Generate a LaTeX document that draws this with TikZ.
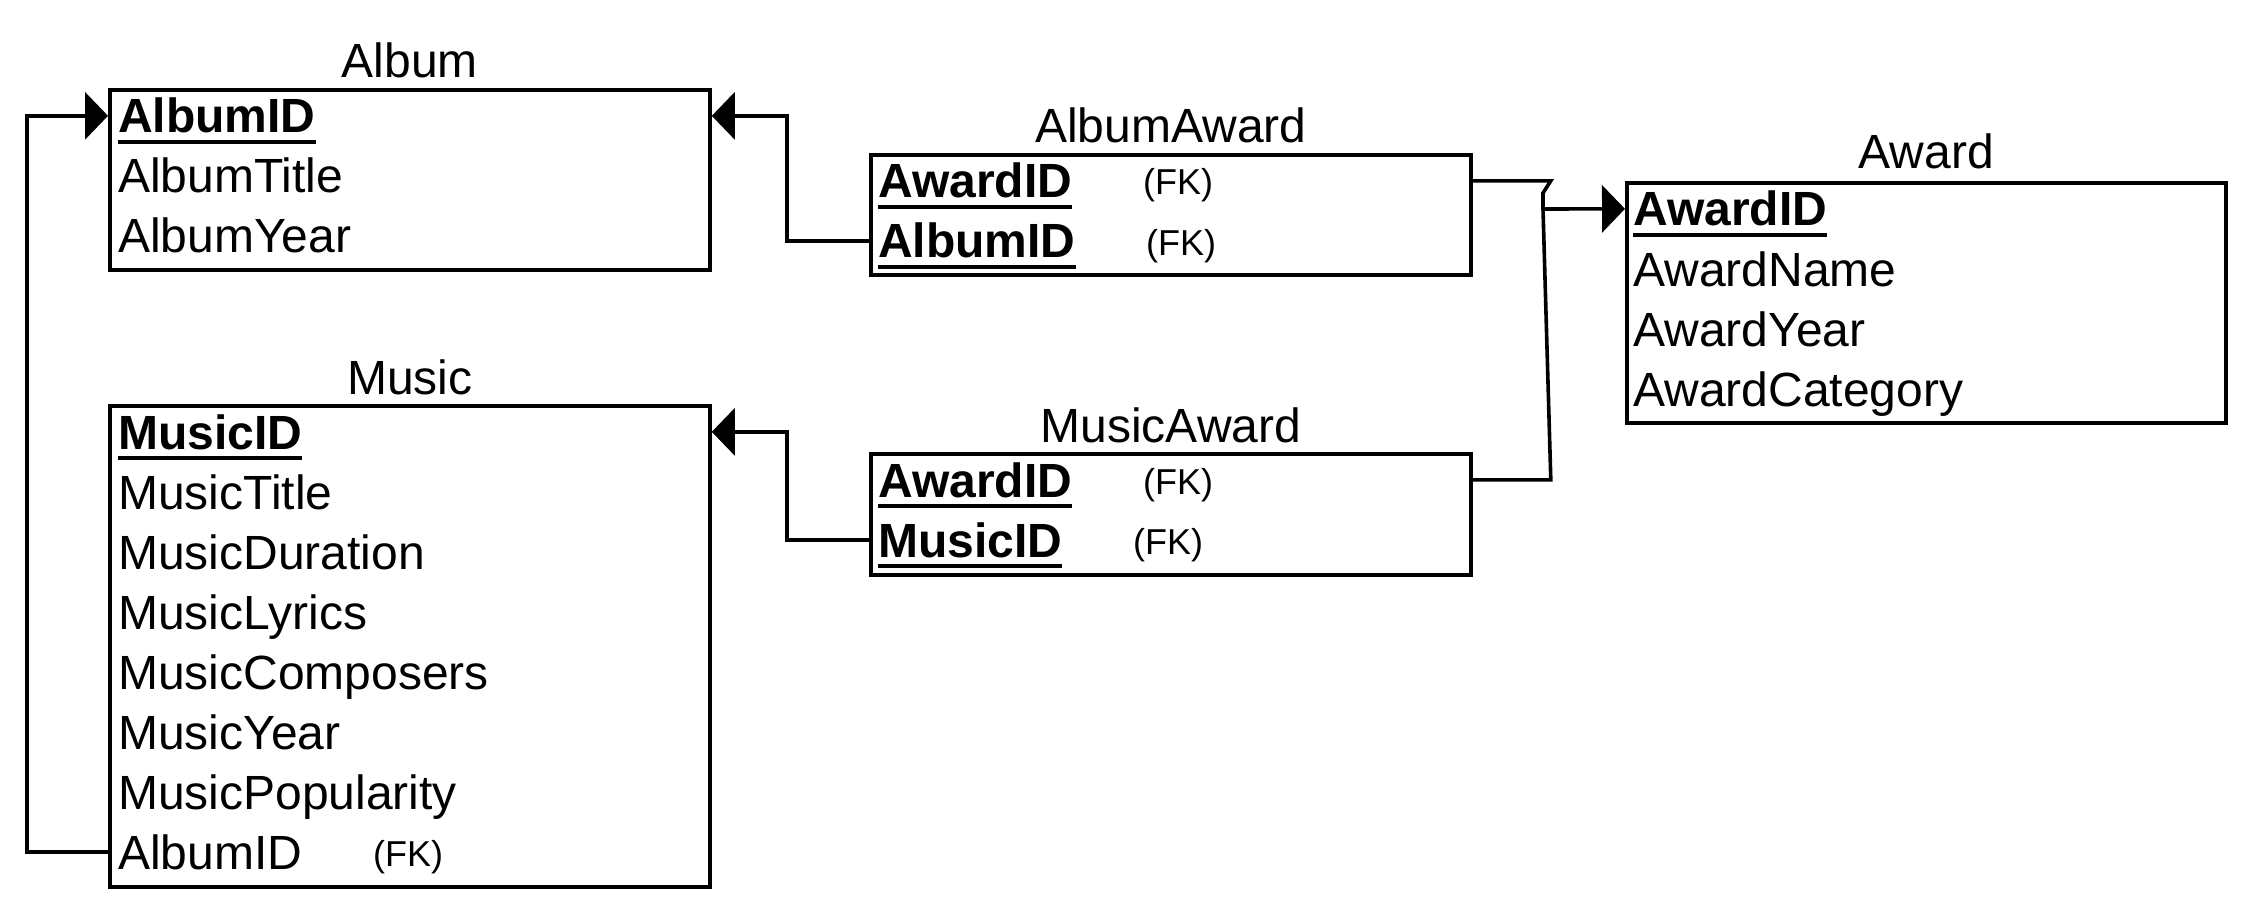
\documentclass[tikz,border=0pt]{standalone}
\usepackage{fontspec}
\setmainfont{Liberation Sans}
\usetikzlibrary{arrows.meta}
\begin{document}
\begin{tikzpicture}[x=1pt,y=-1pt,
  tbl/.style={draw, line width=3.8pt, inner sep=0pt, anchor=north west, minimum width=600pt},
  fld/.style={anchor=base west, inner sep=0pt, font=\fontsize{48}{56}\selectfont},
  pk/.style={anchor=base west, inner sep=0pt, font=\fontsize{48}{56}\selectfont\bfseries},
  fk/.style={anchor=base west, inner sep=0pt, font=\fontsize{36}{42}\selectfont},
  ttl/.style={anchor=base, inner sep=0pt, font=\fontsize{48}{56}\selectfont},
  conn/.style={line width=3.6pt},
  tip/.style={-{Triangle[length=23pt,width=47pt]}},
  ul/.style={line width=4pt}
]
\fill[white] (0,0) rectangle (2252,912);
\useasboundingbox (0,0) rectangle (2252,912);

% Album
\node[tbl, minimum height=180pt] (album) at (108,88) {};
\node[ttl] (albumT) at ([yshift=10pt]album.north) {Album};
\node[pk] (aPK) at (118,133) {AlbumID};
\node[fld] (aTitle) at (118,193) {AlbumTitle};
\node[fld] (aYear) at (118,253) {AlbumYear};
\draw[ul] ([yshift=-9pt]aPK.base west) -- ([yshift=-9pt]aPK.base east);

% Music
\node[tbl, minimum height=481pt] (music) at (108,404) {};
\node[ttl] (musicT) at ([yshift=10pt]music.north) {Music};
\node[pk] (mPK) at (118,449) {MusicID};
\node[fld] (m2) at (118,509) {MusicTitle};
\node[fld] (m3) at (118,569) {MusicDuration};
\node[fld] (m4) at (118,629) {MusicLyrics};
\node[fld] (m5) at (118,689) {MusicComposers};
\node[fld] (m6) at (118,749) {MusicYear};
\node[fld] (m7) at (118,809) {MusicPopularity};
\node[fld] (mAlb) at (118,869) {AlbumID};
\node[fk] (mAlbFK) at (373,866) {(FK)};
\draw[ul] ([yshift=-9pt]mPK.base west) -- ([yshift=-9pt]mPK.base east);

% AlbumAward
\node[tbl, minimum height=120pt, minimum width=600pt] (aa) at (869,153) {};
\node[ttl] (aaT) at ([yshift=10pt]aa.north) {AlbumAward};
\node[pk] (aaAw) at (878,198) {AwardID};
\node[fk] (aaAwFK) at (1143,195) {(FK)};
\node[pk] (aaAl) at (878,258) {AlbumID};
\node[fk] (aaAlFK) at (1146,255) {(FK)};
\draw[ul] ([yshift=-9pt]aaAw.base west) -- ([yshift=-9pt]aaAw.base east);
\draw[ul] ([yshift=-9pt]aaAl.base west) -- ([yshift=-9pt]aaAl.base east);

% MusicAward
\node[tbl, minimum height=121pt, minimum width=600pt] (ma) at (869,452) {};
\node[ttl] (maT) at ([yshift=10pt]ma.north) {MusicAward};
\node[pk] (maAw) at (878,497) {AwardID};
\node[fk] (maAwFK) at (1143,494) {(FK)};
\node[pk] (maMu) at (878,557) {MusicID};
\node[fk] (maMuFK) at (1133,554) {(FK)};
\draw[ul] ([yshift=-9pt]maAw.base west) -- ([yshift=-9pt]maAw.base east);
\draw[ul] ([yshift=-9pt]maMu.base west) -- ([yshift=-9pt]maMu.base east);

% Award
\node[tbl, minimum height=240pt, minimum width=599pt] (award) at (1625,181) {};
\node[ttl] (awardT) at ([yshift=12pt]award.north) {Award};
\node[pk] (awPK) at (1633,226) {AwardID};
\node[fld] (aw2) at (1633,286) {AwardName};
\node[fld] (aw3) at (1633,346) {AwardYear};
\node[fld] (aw4) at (1633,406) {AwardCategory};
\draw[ul] ([yshift=-9pt]awPK.base west) -- ([yshift=-9pt]awPK.base east);

% connectors
\coordinate (jn) at (1543,209);
\draw[conn, tip] (music.west |- mAlb) -- ++(-81,0) |- (album.west |- aPK);
\draw[conn, tip] (aa.west |- aaAl) -- ++(-82,0) |- (album.east |- aPK);
\draw[conn, tip] (ma.west |- maMu) -- ++(-82,0) |- (music.east |- mPK);
\draw[conn] (aa.east |- aaAw) -- ++(78,0) -- (1543,193) -- (jn);
\draw[conn] (ma.east |- maAw) -- ++(78,0) -- (jn);
\draw[conn, tip] (jn) -- (award.west |- awPK);
\end{tikzpicture}
\end{document}
